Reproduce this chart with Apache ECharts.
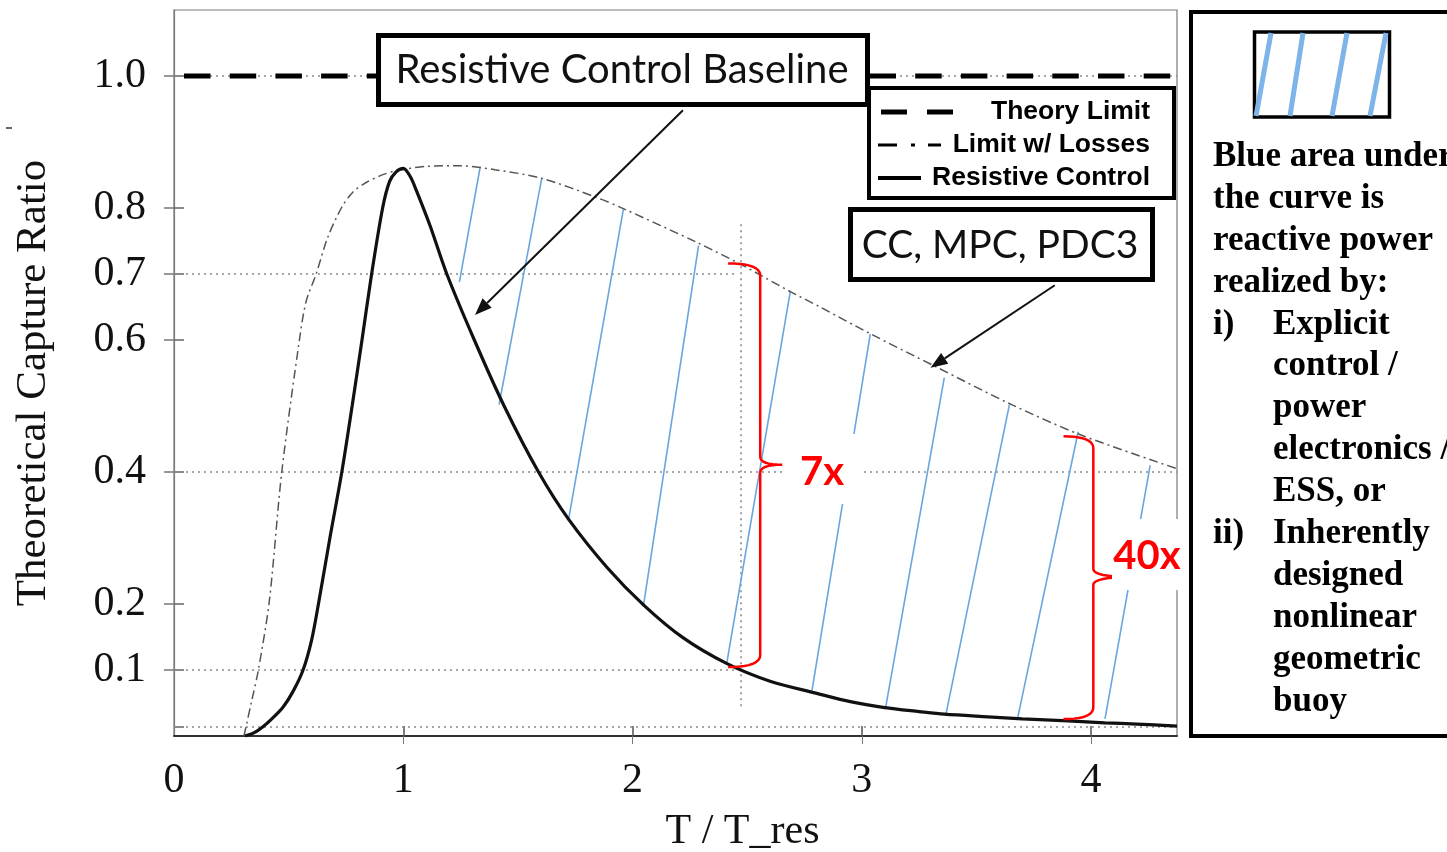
<!DOCTYPE html>
<html>
<head>
<meta charset="utf-8">
<script src="https://cdn.jsdelivr.net/npm/echarts@6/dist/echarts.min.js"></script>
<style>
html,body{margin:0;padding:0;background:#fff;}
#chart{width:1447px;height:852px;}
</style>
</head>
<body>
<div id="chart"></div>
<script>
// ---------- data ----------
const xLabelValues = [0, 1, 2, 3, 4];
const xTickValues = [1, 2, 3, 4];
const yLabelValues = [0.1, 0.2, 0.4, 0.6, 0.7, 0.8, 1.0];
const yTickValues = [0.014, 0.1, 0.2, 0.4, 0.6, 0.7, 0.8, 1.0];

const theoryX = [0, 4.375];
const theoryY = [1.0, 1.0];

const lossesX = [0.305,0.314,0.34,0.368,0.416,0.47,0.547,0.576,0.62,0.67,0.73,0.78,0.84,0.90,0.964,1.1,1.25,1.4,1.604,1.843,1.96,2.28,2.47,2.69,2.818,3.04,3.32,3.654,3.957,4.375];
const lossesY = [0,0.014,0.055,0.1,0.205,0.4,0.6,0.658,0.7,0.755,0.8,0.824,0.839,0.849,0.856,0.863,0.864,0.858,0.845,0.816,0.799,0.748,0.715,0.673,0.650,0.609,0.560,0.502,0.456,0.405];

const resistX = [0.31,0.35,0.388,0.43,0.476,0.52,0.563,0.60,0.63,0.68,0.732,0.777,0.82,0.862,0.91,0.94,0.97,1.0,1.03,1.06,1.117,1.19,1.31,1.44,1.59,1.72,1.89,2.05,2.22,2.41,2.6,2.8,2.95,3.1,3.25,3.36,3.55,3.7,3.9,4.06,4.2,4.375];
const resistY = [0,0.005,0.014,0.027,0.044,0.068,0.1,0.145,0.2,0.3,0.4,0.5,0.6,0.7,0.8,0.84,0.855,0.86,0.848,0.824,0.773,0.7,0.6,0.5,0.4,0.329,0.255,0.198,0.149,0.11,0.083,0.065,0.052,0.043,0.037,0.033,0.029,0.026,0.023,0.02,0.018,0.015];

// hatch segments (bottom end -> top end)
const hatchX0 = [1.245,1.418,1.720,2.048,2.411,2.782,3.103,3.366,3.681,4.061];
const hatchY0 = [0.688,0.502,0.326,0.198,0.110,0.067,0.041,0.031,0.029,0.026];
const hatchX1 = [1.335,1.604,1.960,2.288,2.688,3.037,3.360,3.644,3.944,4.258];
const hatchY1 = [0.861,0.845,0.798,0.743,0.673,0.609,0.543,0.502,0.461,0.410];

// dotted reference lines
const refX0 = [0, 0, 0, 0, 0, 2.47];
const refY0 = [1.0, 0.7, 0.4, 0.1, 0.014, 0.045];
const refX1 = [4.375, 2.45, 4.375, 2.45, 4.375, 2.47];
const refY1 = [1.0, 0.7, 0.4, 0.1, 0.014, 0.781];

// ratio braces (7x, 40x)
const braceX = [2.557, 4.01];
const braceTop = [0.716, 0.454];
const braceBottom = [0.1045, 0.0256];
const braceMid = [0.411, 0.241];
const braceHookX = [2.417, 3.88];
const braceTipX = [2.653, 4.18];

// annotation arrows
const arrowX0 = [2.22, 3.842];
const arrowY0 = [0.948, 0.683];
const arrowX1 = [1.313, 3.30];
const arrowY1 = [0.638, 0.558];

// ---------- helpers ----------
const pair = (xs, ys) => xs.map((x, i) => [x, ys[i]]);
function quad(p0, c, p1, n) {
  const out = [];
  for (let k = 1; k <= n; k++) {
    const t = k / n, a = (1 - t) * (1 - t), b = 2 * (1 - t) * t, d = t * t;
    out.push([a * p0[0] + b * c[0] + d * p1[0], a * p0[1] + b * c[1] + d * p1[1]]);
  }
  return out;
}

const SERIF = '"Liberation Serif","DejaVu Serif",serif';
const CALI = 'Lato,"Open Sans",sans-serif';
const ARIAL = '"Liberation Sans",Arial,sans-serif';
const BLUE = '#6aa6de';

const chart = echarts.init(document.getElementById('chart'), null, {renderer: 'canvas'});

const option = {
  backgroundColor: '#fff',
  animation: false,
  grid: {left: 174, right: 270, top: 10, bottom: 116, show: true, borderColor: '#7a7a7a', borderWidth: 1.2,
    containLabel: false, outerBoundsMode: 'none'},
  xAxis: [{
    type: 'value', min: 0, max: 4.375, position: 'bottom',
    name: 'T / T_res', nameLocation: 'middle', nameGap: 75,
    nameTextStyle: {fontFamily: SERIF, fontSize: 42, color: '#111', padding: [0, 0, 0, 134]},
    axisLine: {show: true, lineStyle: {color: '#333', width: 2}},
    axisTick: {show: true, inside: true, length: 10, customValues: xTickValues, lineStyle: {color: '#555', width: 1.5}},
    axisLabel: {customValues: xLabelValues, fontFamily: SERIF, fontSize: 42, color: '#111', margin: 24},
    splitLine: {show: false}
  }, {
    type: 'value', min: 0, max: 4.375, position: 'top',
    axisLine: {show: false},
    axisTick: {show: true, inside: true, length: 8, customValues: xTickValues, lineStyle: {color: '#777'}},
    axisLabel: {show: false}, splitLine: {show: false}
  }],
  yAxis: [{
    type: 'value', min: 0, max: 1.1, position: 'left',
    name: 'Theoretical Capture Ratio', nameLocation: 'middle', nameGap: 119, nameRotate: 90,
    nameTextStyle: {fontFamily: SERIF, fontSize: 43, color: '#111', padding: [0, 20, 0, 0]},
    axisLine: {show: true, lineStyle: {color: '#7a7a7a', width: 1.2}},
    axisTick: {show: true, inside: true, length: 10, customValues: yTickValues, lineStyle: {color: '#666', width: 1.5}},
    axisLabel: {customValues: yLabelValues, fontFamily: SERIF, fontSize: 42, color: '#111', margin: 28,
      formatter: v => v.toFixed(1)},
    splitLine: {show: false}
  }, {
    type: 'value', min: 0, max: 1.1, position: 'right',
    axisLine: {show: false},
    axisTick: {show: true, inside: true, length: 10, customValues: yLabelValues, lineStyle: {color: '#777', width: 1.5}},
    axisLabel: {show: false}, splitLine: {show: false}
  }],
  series: [
    {
      type: 'lines', coordinateSystem: 'cartesian2d', z: 1, silent: true,
      data: refX0.map((x, i) => ({coords: [[x, refY0[i]], [refX1[i], refY1[i]]]})),
      lineStyle: {color: '#8a8a8a', width: 1.6, type: [2, 4], opacity: 1}
    },
    {
      type: 'lines', coordinateSystem: 'cartesian2d', z: 2, silent: true,
      data: hatchX0.map((x, i) => ({coords: [[x, hatchY0[i]], [hatchX1[i], hatchY1[i]]]})),
      lineStyle: {color: BLUE, width: 1.6, opacity: 1}
    },
    {
      name: 'Theory Limit', type: 'line', z: 3, silent: true, showSymbol: false,
      data: pair(theoryX, theoryY),
      lineStyle: {color: '#000', width: 5, type: [26.5, 19.2], dashOffset: 35.7}
    },
    {
      name: 'Limit w/ Losses', type: 'line', z: 3, silent: true, showSymbol: false, smooth: 0.3,
      data: pair(lossesX, lossesY),
      lineStyle: {color: '#555', width: 1.5, type: [9, 4, 2, 4]}
    },
    {
      name: 'Resistive Control', type: 'line', z: 4, silent: true, showSymbol: false, smooth: 0.3,
      data: pair(resistX, resistY),
      lineStyle: {color: '#111', width: 3.2}
    },
    {
      type: 'custom', coordinateSystem: 'cartesian2d', z: 6, silent: true, clip: false,
      dimensions: ['x', 'top', 'bottom', 'mid', 'hook', 'tip'],
      encode: {x: [0, 4, 5], y: [1, 2, 3]},
      data: braceX.map((x, i) => [x, braceTop[i], braceBottom[i], braceMid[i], braceHookX[i], braceTipX[i]]),
      renderItem: (params, api) => {
        const vx = api.coord([api.value(0), 0])[0];
        const T = api.coord([0, api.value(1)])[1];
        const B = api.coord([0, api.value(2)])[1];
        const M = api.coord([0, api.value(3)])[1];
        const hx = api.coord([api.value(4), 0])[0];
        const tx = api.coord([api.value(5), 0])[0];
        const r = 12, s = 8;
        let pts = [[hx, T]];
        pts = pts.concat(quad([hx, T], [vx, T], [vx, T + r], 10));
        pts.push([vx, M - s]);
        pts = pts.concat(quad([vx, M - s], [vx, M], [tx, M], 8));
        pts = pts.concat(quad([tx, M], [vx, M], [vx, M + s], 8));
        pts.push([vx, B - r]);
        pts = pts.concat(quad([vx, B - r], [vx, B], [hx, B], 10));
        return {type: 'polyline', shape: {points: pts}, style: {stroke: '#f00', lineWidth: 2.5, fill: null}};
      }
    },
    {
      type: 'custom', coordinateSystem: 'cartesian2d', z: 7, silent: true, clip: false,
      dimensions: ['x0', 'y0', 'x1', 'y1'],
      encode: {x: [0, 2], y: [1, 3]},
      data: arrowX0.map((x, i) => [x, arrowY0[i], arrowX1[i], arrowY1[i]]),
      renderItem: (params, api) => {
        const p0 = api.coord([api.value(0), api.value(1)]);
        const p1 = api.coord([api.value(2), api.value(3)]);
        const ang = Math.atan2(p1[1] - p0[1], p1[0] - p0[0]);
        const L = 17, W = 6.5;
        const base = [p1[0] - L * Math.cos(ang), p1[1] - L * Math.sin(ang)];
        const left = [base[0] + W * Math.sin(ang), base[1] - W * Math.cos(ang)];
        const right = [base[0] - W * Math.sin(ang), base[1] + W * Math.cos(ang)];
        return {type: 'group', children: [
          {type: 'line', shape: {x1: p0[0], y1: p0[1], x2: base[0], y2: base[1]}, style: {stroke: '#111', lineWidth: 2}},
          {type: 'polygon', shape: {points: [p1, left, right]}, style: {fill: '#111'}}
        ]};
      }
    }
  ],
  graphic: [
    {type: 'line', z: 100, shape: {x1: 6, y1: 128, x2: 12, y2: 128}, style: {stroke: '#333', lineWidth: 1.5}},
    // Resistive Control Baseline box
    {type: 'rect', z: 100, shape: {x: 378.5, y: 35.5, width: 489, height: 69}, style: {fill: '#fff', stroke: '#000', lineWidth: 5}},
    {type: 'text', z: 101, style: {text: 'Resistive Control Baseline', x: 622, y: 70, textAlign: 'center', textVerticalAlign: 'middle',
      fontFamily: CALI, fontSize: 40, fill: '#111'}},
    // legend box
    {type: 'rect', z: 100, shape: {x: 869, y: 88, width: 305, height: 110}, style: {fill: '#fff', stroke: '#000', lineWidth: 4}},
    {type: 'line', z: 101, shape: {x1: 881, y1: 112, x2: 955, y2: 112}, style: {stroke: '#000', lineWidth: 5, lineDash: [26, 20]}},
    {type: 'text', z: 101, style: {text: 'Theory Limit', x: 1150, y: 112, textAlign: 'right', textVerticalAlign: 'middle',
      fontFamily: ARIAL, fontWeight: 'bold', fontSize: 26.5, fill: '#000'}},
    {type: 'line', z: 101, shape: {x1: 878, y1: 145, x2: 941, y2: 145}, style: {stroke: '#000', lineWidth: 3, lineDash: [19, 14, 4, 13, 13, 60]}},
    {type: 'text', z: 101, style: {text: 'Limit w/ Losses', x: 1150, y: 145, textAlign: 'right', textVerticalAlign: 'middle',
      fontFamily: ARIAL, fontWeight: 'bold', fontSize: 26.5, fill: '#000'}},
    {type: 'line', z: 101, shape: {x1: 878, y1: 178, x2: 921, y2: 178}, style: {stroke: '#000', lineWidth: 4}},
    {type: 'text', z: 101, style: {text: 'Resistive Control', x: 1150, y: 178, textAlign: 'right', textVerticalAlign: 'middle',
      fontFamily: ARIAL, fontWeight: 'bold', fontSize: 26.5, fill: '#000'}},
    // CC, MPC, PDC3 box
    {type: 'rect', z: 100, shape: {x: 850.5, y: 209.5, width: 302, height: 70}, style: {fill: '#fff', stroke: '#000', lineWidth: 5}},
    {type: 'text', z: 101, style: {text: 'CC, MPC, PDC3', x: 1000, y: 245, textAlign: 'center', textVerticalAlign: 'middle',
      fontFamily: CALI, fontSize: 39, fill: '#111'}},
    // 7x label
    {type: 'rect', z: 100, shape: {x: 784, y: 434, width: 78, height: 70}, style: {fill: '#fff'}},
    {type: 'text', z: 101, style: {text: '7x', x: 822, y: 472, textAlign: 'center', textVerticalAlign: 'middle',
      fontFamily: CALI, fontWeight: 'bold', fontSize: 40, fill: '#ff0000'}},
    // 40x label
    {type: 'rect', z: 100, shape: {x: 1112, y: 519, width: 74, height: 71}, style: {fill: '#fff'}},
    {type: 'text', z: 101, style: {text: '40x', x: 1147, y: 556, textAlign: 'center', textVerticalAlign: 'middle',
      fontFamily: CALI, fontWeight: 'bold', fontSize: 40, fill: '#ff0000'}},
    // right explanatory panel
    {type: 'rect', z: 100, shape: {x: 1191, y: 12, width: 300, height: 724}, style: {fill: '#fff', stroke: '#000', lineWidth: 4}},
    {type: 'rect', z: 101, shape: {x: 1254.5, y: 32, width: 135, height: 85}, style: {fill: '#fff', stroke: '#000', lineWidth: 3.5}},
    {type: 'line', z: 102, shape: {x1: 1256, y1: 116, x2: 1271, y2: 33}, style: {stroke: '#7db4ea', lineWidth: 5}},
    {type: 'line', z: 102, shape: {x1: 1290, y1: 116, x2: 1303, y2: 33}, style: {stroke: '#7db4ea', lineWidth: 5}},
    {type: 'line', z: 102, shape: {x1: 1332, y1: 116, x2: 1347, y2: 33}, style: {stroke: '#7db4ea', lineWidth: 5}},
    {type: 'line', z: 102, shape: {x1: 1370, y1: 116, x2: 1386, y2: 33}, style: {stroke: '#7db4ea', lineWidth: 5}},
    {type: 'text', z: 101, style: {text: 'Blue area under\nthe curve is\nreactive power\nrealized by:', x: 1213, y: 136, textAlign: 'left', textVerticalAlign: 'top',
      fontFamily: SERIF, fontWeight: 'bold', fontSize: 35, lineHeight: 41.9, fill: '#000'}},
    {type: 'text', z: 101, style: {text: 'i)', x: 1213, y: 303.6, textAlign: 'left', textVerticalAlign: 'top',
      fontFamily: SERIF, fontWeight: 'bold', fontSize: 35, lineHeight: 41.9, fill: '#000'}},
    {type: 'text', z: 101, style: {text: 'Explicit\ncontrol /\npower\nelectronics /\nESS, or', x: 1273, y: 303.6, textAlign: 'left', textVerticalAlign: 'top',
      fontFamily: SERIF, fontWeight: 'bold', fontSize: 35, lineHeight: 41.9, fill: '#000'}},
    {type: 'text', z: 101, style: {text: 'ii)', x: 1213, y: 513, textAlign: 'left', textVerticalAlign: 'top',
      fontFamily: SERIF, fontWeight: 'bold', fontSize: 35, lineHeight: 41.9, fill: '#000'}},
    {type: 'text', z: 101, style: {text: 'Inherently\ndesigned\nnonlinear\ngeometric\nbuoy', x: 1273, y: 513, textAlign: 'left', textVerticalAlign: 'top',
      fontFamily: SERIF, fontWeight: 'bold', fontSize: 35, lineHeight: 41.9, fill: '#000'}}
  ]
};
chart.setOption(option);
</script>
</body>
</html>
